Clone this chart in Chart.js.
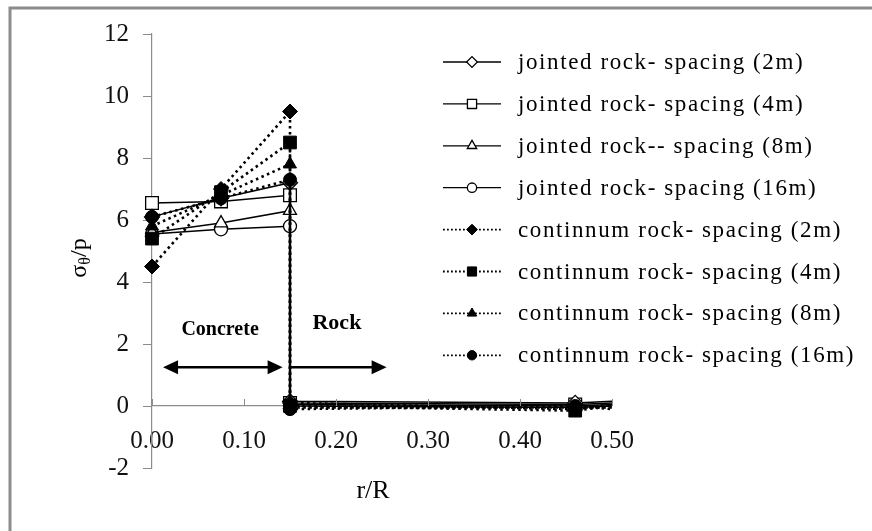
<!DOCTYPE html>
<html>
<head>
<meta charset="utf-8">
<title>Hoop stress ratio vs r/R</title>
<script src="https://cdn.jsdelivr.net/npm/chart.js@4.4.1/dist/chart.umd.min.js"></script>
<style>
    html, body { margin: 0; padding: 0; background: #fff; }
    #wrap { position: relative; width: 872px; height: 531px; }
</style>
</head>
<body>
<div id="wrap"><canvas id="stressChart" width="872" height="531"></canvas></div>
<script>
// r/R positions shared by every series (interface at 0.15 appears twice: concrete side, rock side)
const rR = [0, 0.075, 0.15, 0.15, 0.46, 0.5];

// sigma_theta / p
const jointed2m = [6.1, 6.7, 7.2, 0.15, 0.10, 0.15];
const jointed4m = [6.55, 6.6, 6.8, 0.10, 0.05, 0.10];
const jointed8m = [5.6, 5.9, 6.3, 0.05, 0.00, 0.05];
const jointed16m = [5.55, 5.7, 5.8, 0.00, -0.05, 0.00];
const continuum2m = [4.5, 7.0, 9.5, 0.10, -0.10, 0.05];
const continuum4m = [5.4, 6.9, 8.5, 0.00, -0.15, 0.00];
const continuum8m = [5.8, 6.8, 7.8, -0.05, -0.05, -0.05];
const continuum16m = [6.1, 6.7, 7.3, -0.10, 0.00, -0.10];

const seriesLabels = [
    'jointed rock- spacing (2m)',
    'jointed rock- spacing (4m)',
    'jointed rock-- spacing (8m)',
    'jointed rock- spacing (16m)',
    'continnum rock- spacing (2m)',
    'continnum rock- spacing (4m)',
    'continnum rock- spacing (8m)',
    'continnum rock- spacing (16m)'
];

const yTicks = [-2, 0, 2, 4, 6, 8, 10, 12];
const xTicks = [0, 0.1, 0.2, 0.3, 0.4, 0.5];

const SERIF = '"Liberation Serif", "DejaVu Serif", serif';

document.addEventListener('DOMContentLoaded', function() {
    const ctx = document.getElementById('stressChart').getContext('2d');

    function toPoints(values) {
        return values.map(function(v, i) { return { x: rR[i], y: v }; });
    }

    // marker is hidden on the very last point (end of the axis, no marker in the original)
    function radiusFor(r) {
        return function(c) { return c.dataIndex === rR.length - 1 ? 0 : r; };
    }

    function jointed(label, values, style, r) {
        return {
            label: label,
            data: toPoints(values),
            borderColor: '#000',
            borderWidth: 1.5,
            pointStyle: style,
            pointRadius: radiusFor(r),
            pointBackgroundColor: '#fff',
            pointBorderColor: '#000',
            pointBorderWidth: 1.3,
            legendRadius: r * 0.72,
            order: 1,
            clip: false
        };
    }

    function continuum(label, values, style, r) {
        return {
            label: label,
            data: toPoints(values),
            borderColor: '#000',
            borderWidth: 2.6,
            borderDash: [2.5, 3.5],
            pointStyle: style,
            pointRadius: radiusFor(r),
            pointBackgroundColor: '#000',
            pointBorderColor: '#000',
            pointBorderWidth: 1,
            legendRadius: r * 0.72,
            order: 0,
            clip: false
        };
    }

    const datasets = [
        jointed(seriesLabels[0], jointed2m, 'rectRot', 7.5),
        jointed(seriesLabels[1], jointed4m, 'rect', 9),
        jointed(seriesLabels[2], jointed8m, 'triangle', 7.5),
        jointed(seriesLabels[3], jointed16m, 'circle', 6.5),
        continuum(seriesLabels[4], continuum2m, 'rectRot', 7.5),
        continuum(seriesLabels[5], continuum4m, 'rect', 9),
        continuum(seriesLabels[6], continuum8m, 'triangle', 7.5),
        continuum(seriesLabels[7], continuum16m, 'circle', 6.5)
    ];

    // frame, axis titles, region arrows, x tick marks and legend
    const decorations = {
        id: 'decorations',
        beforeDraw: function(chart) {
            const c = chart.ctx;
            c.save();
            c.fillStyle = '#fff';
            c.fillRect(0, 0, chart.width, chart.height);
            c.strokeStyle = '#8c8c8c';
            c.lineWidth = 3;
            c.beginPath();
            c.moveTo(10, chart.height);
            c.lineTo(10, 8);
            c.lineTo(chart.width, 8);
            c.stroke();
            c.restore();
        },
        afterDatasetsDraw: function(chart) {
            const c = chart.ctx;
            const xs = chart.scales.x;
            const ys = chart.scales.y;
            c.save();

            // x tick marks point upward from the axis at y = 0
            c.strokeStyle = '#8c8c8c';
            c.lineWidth = 1;
            const y0 = ys.getPixelForValue(0);
            xTicks.forEach(function(t) {
                const px = Math.round(xs.getPixelForValue(t)) + 0.5;
                c.beginPath();
                c.moveTo(px, y0);
                c.lineTo(px, y0 - 7);
                c.stroke();
            });

            // region arrows
            function arrow(x1, x2, yv, both) {
                const a = xs.getPixelForValue(x1);
                const b = xs.getPixelForValue(x2);
                const y = ys.getPixelForValue(yv);
                c.strokeStyle = '#000';
                c.fillStyle = '#000';
                c.lineWidth = 2.5;
                c.beginPath();
                c.moveTo(both ? a + 8 : a, y);
                c.lineTo(b - 8, y);
                c.stroke();
                function head(tip, dir) {
                    c.beginPath();
                    c.moveTo(tip, y);
                    c.lineTo(tip - dir * 15, y - 7);
                    c.lineTo(tip - dir * 15, y + 7);
                    c.closePath();
                    c.fill();
                }
                head(b, 1);
                if (both) head(a, -1);
            }
            arrow(0.012, 0.142, 1.25, true);
            arrow(0.150, 0.255, 1.25, false);

            c.fillStyle = '#000';
            c.textAlign = 'center';
            c.textBaseline = 'middle';
            c.font = 'bold 20px ' + SERIF;
            c.fillText('Concrete', xs.getPixelForValue(0.074), ys.getPixelForValue(2.45));
            c.font = 'bold 22px ' + SERIF;
            c.fillText('Rock', xs.getPixelForValue(0.201), ys.getPixelForValue(2.68));

            // x axis title
            c.font = '26px ' + SERIF;
            c.fillText('r/R', 373, 491);

            // y axis title: sigma with theta subscript, over p
            c.save();
            c.translate(79, 258);
            c.rotate(-Math.PI / 2);
            c.textAlign = 'left';
            c.textBaseline = 'alphabetic';
            c.font = '24px ' + SERIF;
            const w1 = c.measureText('σ').width;
            c.font = '16px ' + SERIF;
            const w2 = c.measureText('θ').width;
            c.font = '24px ' + SERIF;
            const w3 = c.measureText('/p').width;
            let x = -(w1 + w2 + w3) / 2;
            c.fillText('σ', x, 7);
            x += w1;
            c.font = '16px ' + SERIF;
            c.fillText('θ', x, 11);
            x += w2;
            c.font = '24px ' + SERIF;
            c.fillText('/p', x, 7);
            c.restore();

            // legend
            c.font = '23px ' + SERIF;
            c.letterSpacing = '1.6px';
            c.textAlign = 'left';
            c.textBaseline = 'middle';
            chart.data.datasets.forEach(function(ds, i) {
                const ly = 62 + i * 41.9;
                c.strokeStyle = '#000';
                c.lineWidth = ds.borderDash ? 1.8 : 1.3;
                c.setLineDash(ds.borderDash ? [1.8, 2.2] : []);
                c.beginPath();
                c.moveTo(443, ly);
                c.lineTo(501, ly);
                c.stroke();
                c.setLineDash([]);
                c.fillStyle = ds.pointBackgroundColor;
                c.strokeStyle = ds.pointBorderColor;
                c.lineWidth = ds.pointBorderWidth;
                Chart.helpers.drawPoint(c, {
                    pointStyle: ds.pointStyle,
                    radius: ds.legendRadius,
                    rotation: 0,
                    borderWidth: ds.pointBorderWidth
                }, 472, ly);
                c.fillStyle = '#000';
                c.fillText(ds.label, 518, ly + 1);
            });
            c.letterSpacing = '0px';
            c.restore();
        }
    };

    new Chart(ctx, {
        type: 'line',
        data: { datasets: datasets },
        options: {
            responsive: false,
            animation: false,
            layout: {
                padding: { left: 0, top: 34, right: 260, bottom: 63 }
            },
            plugins: {
                legend: { display: false },
                tooltip: { enabled: false }
            },
            elements: {
                line: { tension: 0 }
            },
            scales: {
                x: {
                    type: 'linear',
                    position: { y: 0 },
                    min: 0,
                    max: 0.5,
                    afterBuildTicks: function(scale) {
                        scale.ticks = xTicks.map(function(v) { return { value: v }; });
                    },
                    afterFit: function(scale) { scale.height = 0; },
                    border: { color: '#8c8c8c', width: 1.2 },
                    grid: { display: true, drawOnChartArea: false, drawTicks: false },
                    ticks: {
                        color: '#111',
                        padding: 20,
                        maxRotation: 0,
                        font: { family: SERIF, size: 25 },
                        callback: function(v) { return Number(v).toFixed(2); }
                    }
                },
                y: {
                    type: 'linear',
                    min: -2,
                    max: 12,
                    afterBuildTicks: function(scale) {
                        scale.ticks = yTicks.map(function(v) { return { value: v }; });
                    },
                    afterFit: function(scale) { scale.width = 152; },
                    border: { color: '#8c8c8c', width: 1.2 },
                    grid: {
                        drawOnChartArea: false,
                        drawTicks: true,
                        tickLength: 9,
                        color: '#8c8c8c'
                    },
                    ticks: {
                        color: '#111',
                        padding: 14,
                        font: { family: SERIF, size: 25 }
                    }
                }
            }
        },
        plugins: [decorations]
    });
});
</script>
</body>
</html>
